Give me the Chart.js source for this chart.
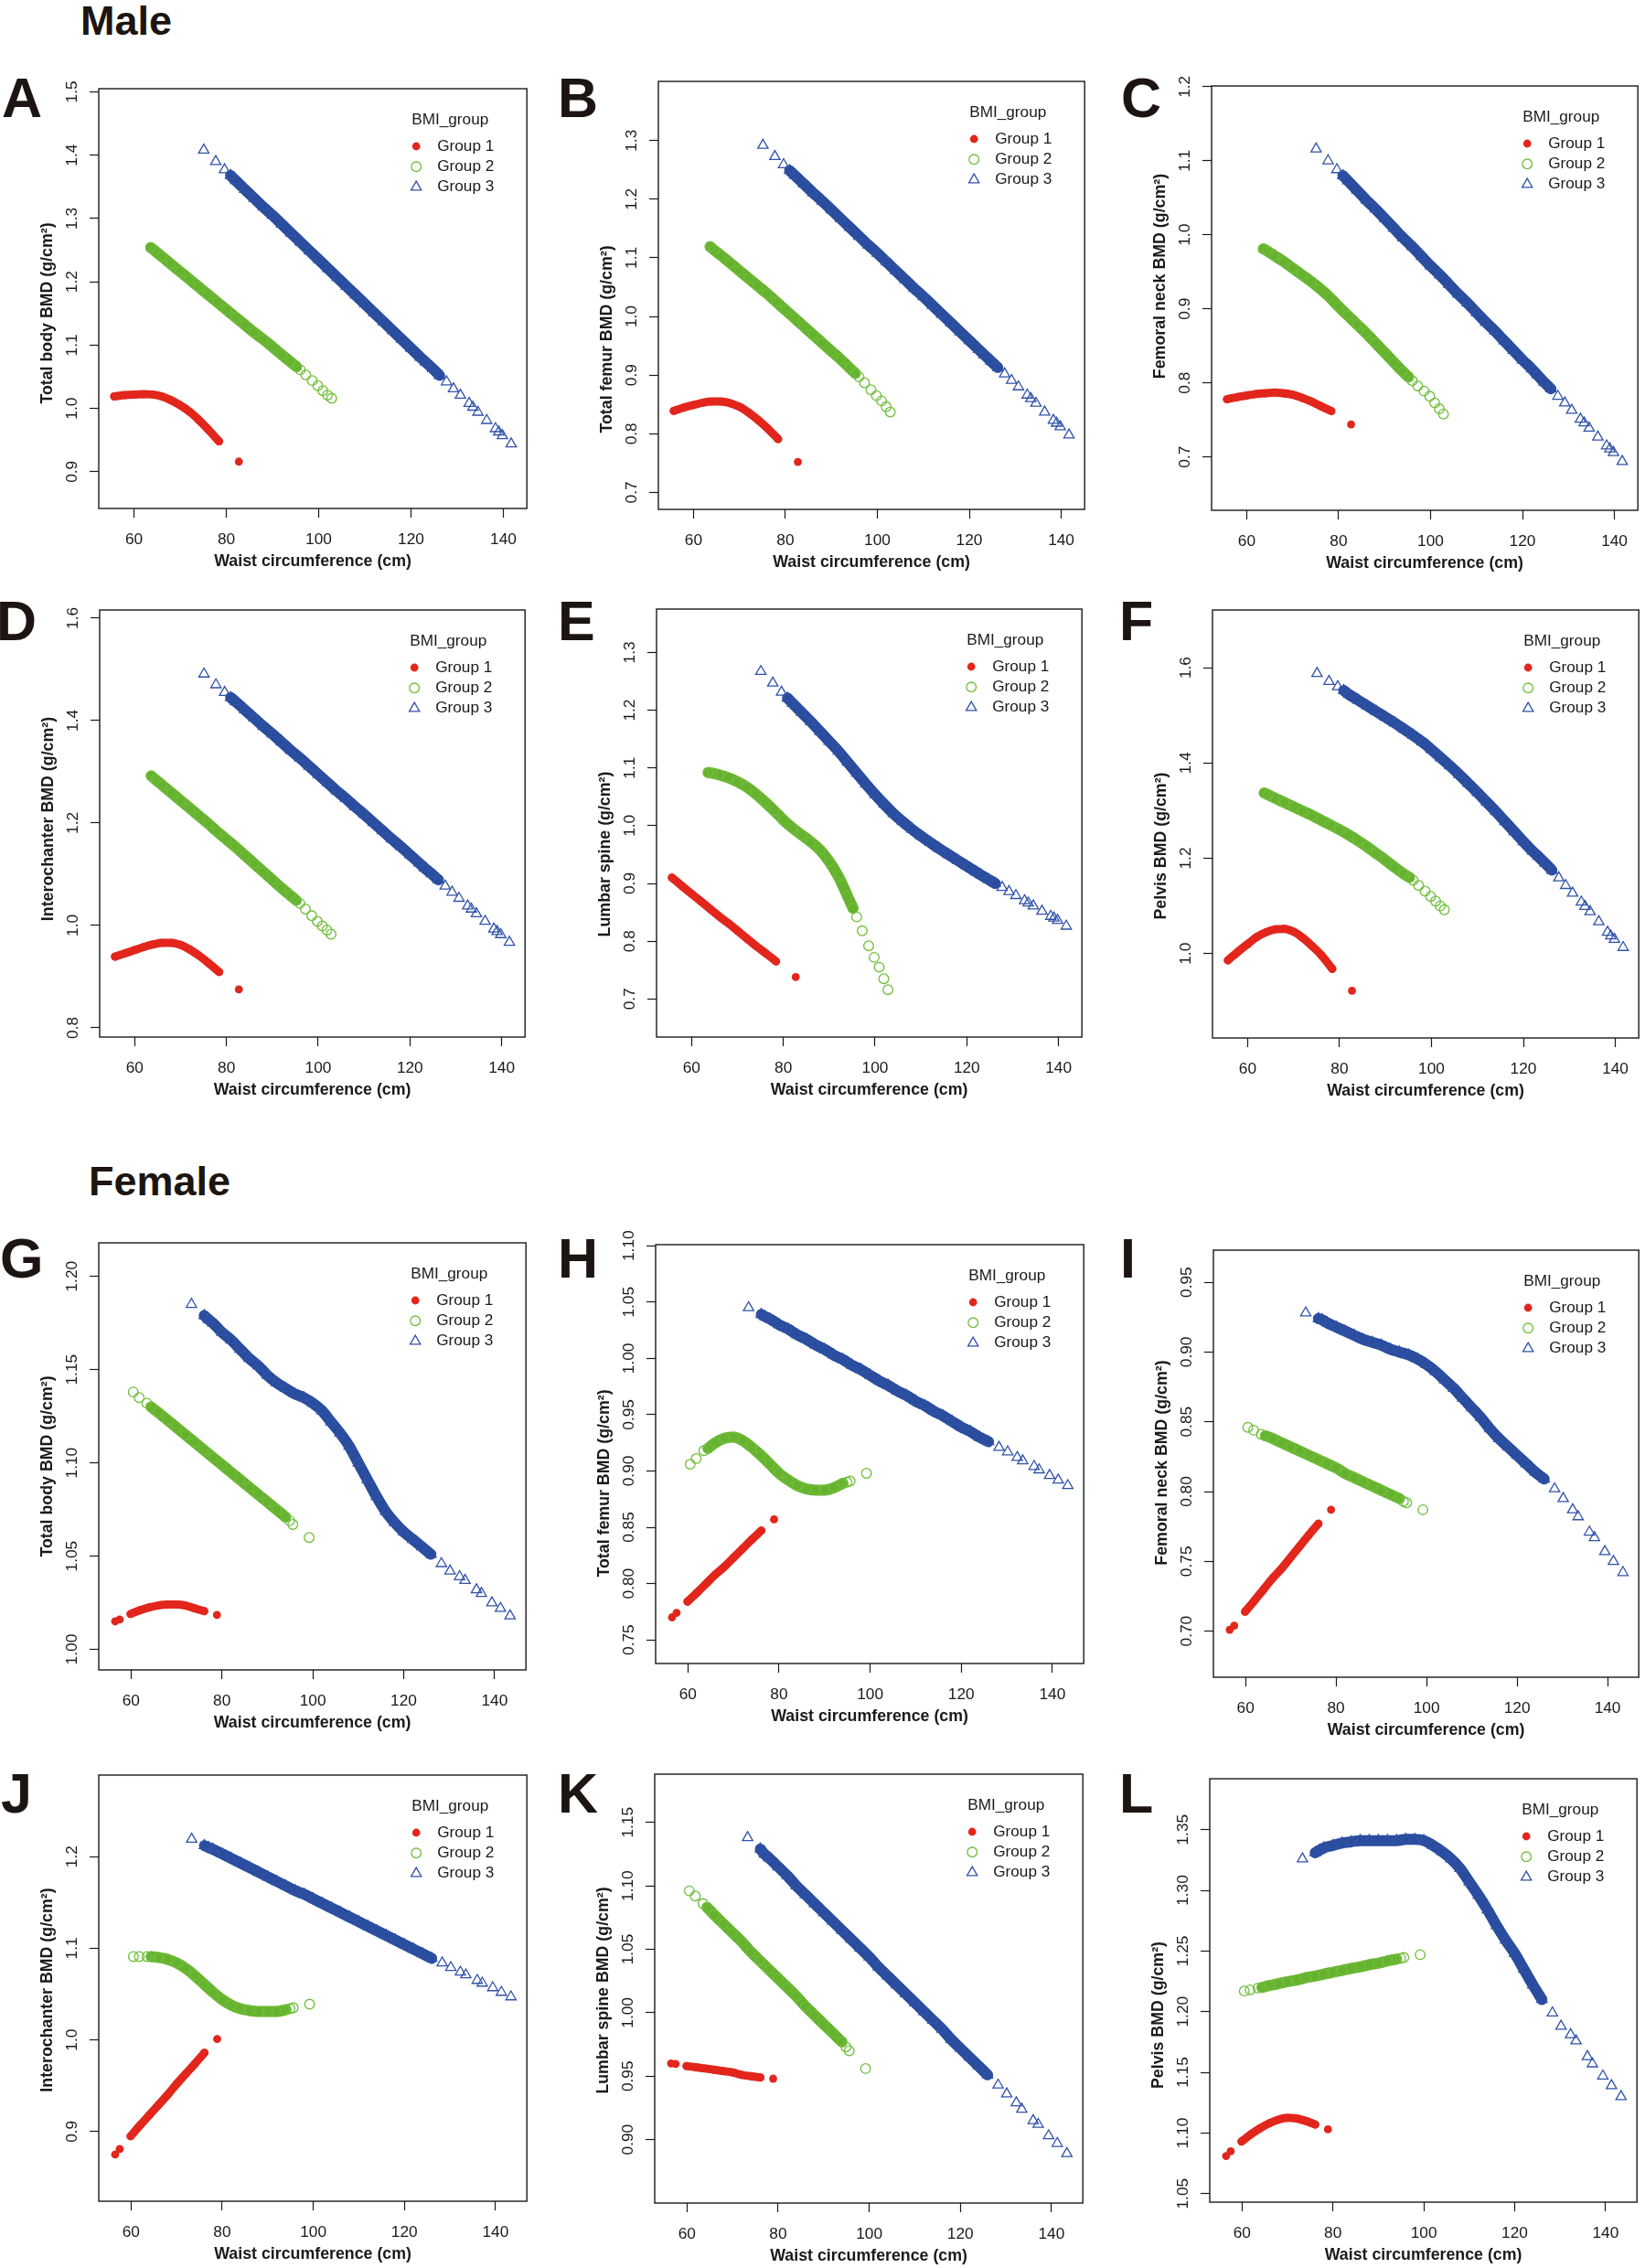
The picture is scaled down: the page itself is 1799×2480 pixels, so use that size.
<!DOCTYPE html>
<html>
<head>
<meta charset="utf-8">
<title>Waist circumference and BMD by BMI group</title>
<script src="https://cdn.jsdelivr.net/npm/chart.js@4.4.1/dist/chart.umd.min.js"></script>
<style>
  html, body { margin: 0; padding: 0; background: #fff; }
  body { position: relative; width: 1799px; height: 2480px; overflow: hidden; }
  .panel { position: absolute; }
  .panel canvas { display: block; }
  .tag { position: absolute; margin: 0; line-height: 1; white-space: nowrap;
         font-family: "Liberation Sans", Arial, sans-serif; font-weight: bold; color: #1c1512; }
  .sex { font-size: 45px; }
  .letter { font-size: 61px; }
</style>
</head>
<body>
<div class="tag sex" style="left:88px;top:0px">Male</div>
<div class="tag sex" style="left:97px;top:1269px">Female</div>
<div class="tag letter" style="left:2px;top:77px">A</div>
<div class="tag letter" style="left:610px;top:77px">B</div>
<div class="tag letter" style="left:1226px;top:77px">C</div>
<div class="tag letter" style="left:-4px;top:649px">D</div>
<div class="tag letter" style="left:610px;top:649px">E</div>
<div class="tag letter" style="left:1224px;top:649px">F</div>
<div class="tag letter" style="left:0px;top:1346px">G</div>
<div class="tag letter" style="left:610px;top:1346px">H</div>
<div class="tag letter" style="left:1225px;top:1346px">I</div>
<div class="tag letter" style="left:1px;top:1931px">J</div>
<div class="tag letter" style="left:610px;top:1931px">K</div>
<div class="tag letter" style="left:1224px;top:1931px">L</div>
<script>
(() => {
    'use strict';

    /**
     * Data
     */

    // Waist circumference (cm), shared by every panel of one sex
    const maleX1 = [55.7, 58, 60, 62, 64, 66, 68, 70, 72, 74, 76, 78.4, 82.7];
    const maleX2 = [63.6, 64.5, 66, 68, 70, 72, 74, 76, 78, 80, 82, 84, 86, 88, 90, 92, 94,
        95.2, 96.0, 97.2, 98.6, 99.8, 100.9, 101.9, 102.8];
    const maleX3 = [75.1, 77.7, 79.6, 80.9, 82, 84, 86, 88, 90, 92, 94, 96, 98, 100, 102, 104,
        106, 108, 110, 112, 114, 116, 118, 120, 122, 123.2, 124.7, 126.2, 127.7, 129.2, 130.7,
        132.6, 133.4, 134.5, 136.4, 138.3, 139.0, 139.8, 141.7];

    const femaleX1 = [56.5, 57.5, 59.9, 62, 64, 66, 68, 70, 72, 74, 76.1, 78.9];
    const femaleX2 = [60.5, 61.8, 63.5, 64.4, 66, 68, 70, 72, 74, 76, 78, 80, 82, 84, 86, 88,
        90, 92, 94, 94.9, 95.6, 99.2];
    const femaleX3 = [73.3, 76.1, 77, 78, 80, 82, 84, 86, 88, 90, 92, 94, 96, 98, 100, 102,
        104, 106, 108, 110, 112, 114, 116, 118, 120, 122, 124, 126, 128.3, 130.2, 132.3, 133.5,
        136.0, 137.1, 139.4, 141.3, 143.4];

    const xTicks = [60, 80, 100, 120, 140];

    // A - Male total body BMD
    const aY1 = [1.019, 1.021, 1.022, 1.0225, 1.022, 1.019, 1.013, 1.005, 0.995, 0.982, 0.967, 0.948, 0.916];
    const aY2 = [1.254, 1.249, 1.240, 1.228, 1.216, 1.204, 1.192, 1.180, 1.168, 1.156, 1.144, 1.132,
        1.120, 1.109, 1.097, 1.085, 1.073, 1.066, 1.061, 1.053, 1.044, 1.036, 1.028, 1.021, 1.016];
    const aY3 = [1.408, 1.390, 1.377, 1.368, 1.360, 1.346, 1.332, 1.318, 1.305, 1.291, 1.277, 1.263,
        1.249, 1.235, 1.221, 1.207, 1.193, 1.179, 1.165, 1.151, 1.137, 1.123, 1.109, 1.095, 1.081,
        1.073, 1.063, 1.052, 1.042, 1.031, 1.021, 1.008, 1.002, 0.994, 0.981, 0.968, 0.963, 0.957, 0.944];
    const aTicks = ['0.9', '1.0', '1.1', '1.2', '1.3', '1.4', '1.5'];

    // B - Male total femur BMD
    const bY1 = [0.839, 0.845, 0.849, 0.853, 0.855, 0.855, 0.852, 0.846, 0.836, 0.824, 0.810, 0.791, 0.752];
    const bY2 = [1.119, 1.113, 1.104, 1.091, 1.078, 1.065, 1.052, 1.039, 1.025, 1.011, 0.997, 0.983,
        0.969, 0.955, 0.941, 0.927, 0.912, 0.903, 0.897, 0.887, 0.875, 0.865, 0.856, 0.846, 0.837];
    const bY3 = [1.292, 1.273, 1.259, 1.249, 1.241, 1.226, 1.211, 1.197, 1.182, 1.167, 1.152, 1.137,
        1.122, 1.108, 1.093, 1.078, 1.063, 1.048, 1.034, 1.019, 1.004, 0.989, 0.974, 0.959, 0.944,
        0.935, 0.924, 0.913, 0.902, 0.891, 0.880, 0.866, 0.860, 0.852, 0.837, 0.823, 0.818, 0.812, 0.798];
    const bTicks = ['0.7', '0.8', '0.9', '1.0', '1.1', '1.2', '1.3'];

    // C - Male femoral neck BMD
    const cY1 = [0.778, 0.781, 0.783, 0.785, 0.786, 0.787, 0.786, 0.784, 0.780, 0.775, 0.769, 0.762, 0.744];
    const cY2 = [0.981, 0.978, 0.972, 0.964, 0.955, 0.946, 0.937, 0.927, 0.916, 0.903, 0.891, 0.879,
        0.867, 0.854, 0.841, 0.828, 0.815, 0.808, 0.803, 0.796, 0.789, 0.782, 0.773, 0.765, 0.758];
    const cY3 = [1.116, 1.100, 1.088, 1.080, 1.073, 1.060, 1.047, 1.035, 1.022, 1.009, 0.996, 0.984,
        0.971, 0.958, 0.946, 0.933, 0.920, 0.908, 0.895, 0.882, 0.870, 0.857, 0.844, 0.831, 0.819,
        0.811, 0.801, 0.792, 0.782, 0.773, 0.763, 0.751, 0.746, 0.739, 0.727, 0.715, 0.711, 0.706, 0.694];
    const cTicks = ['0.7', '0.8', '0.9', '1.0', '1.1', '1.2'];

    // D - Male intertrochanter BMD
    const dY1 = [0.939, 0.946, 0.952, 0.958, 0.963, 0.966, 0.966, 0.962, 0.953, 0.941, 0.927, 0.909, 0.875];
    const dY2 = [1.292, 1.285, 1.274, 1.259, 1.244, 1.229, 1.214, 1.199, 1.183, 1.168, 1.153, 1.137,
        1.121, 1.105, 1.089, 1.073, 1.058, 1.049, 1.043, 1.032, 1.019, 1.008, 0.999, 0.991, 0.983];
    const dY3 = [1.491, 1.470, 1.455, 1.445, 1.437, 1.421, 1.405, 1.389, 1.374, 1.358, 1.342, 1.327,
        1.311, 1.295, 1.279, 1.263, 1.248, 1.232, 1.217, 1.201, 1.185, 1.169, 1.154, 1.138, 1.122,
        1.112, 1.101, 1.089, 1.077, 1.065, 1.053, 1.038, 1.032, 1.023, 1.008, 0.993, 0.988, 0.982, 0.967];
    const dTicks = ['0.8', '1.0', '1.2', '1.4', '1.6'];

    // E - Male lumbar spine BMD
    const eY1 = [0.910, 0.895, 0.882, 0.869, 0.856, 0.843, 0.831, 0.818, 0.805, 0.792, 0.780, 0.765, 0.738];
    const eY2 = [1.092, 1.091, 1.088, 1.083, 1.076, 1.067, 1.055, 1.041, 1.026, 1.010, 0.996, 0.984,
        0.972, 0.958, 0.938, 0.912, 0.878, 0.857, 0.842, 0.818, 0.792, 0.772, 0.755, 0.735, 0.716];
    const eY3 = [1.267, 1.247, 1.231, 1.221, 1.212, 1.196, 1.180, 1.163, 1.146, 1.129, 1.110, 1.091,
        1.072, 1.054, 1.037, 1.021, 1.007, 0.994, 0.982, 0.971, 0.960, 0.950, 0.940, 0.930, 0.920,
        0.914, 0.907, 0.900, 0.893, 0.886, 0.879, 0.870, 0.866, 0.861, 0.852, 0.843, 0.840, 0.836, 0.826];
    const eTicks = ['0.7', '0.8', '0.9', '1.0', '1.1', '1.2', '1.3'];

    // F - Male pelvis BMD
    const fY1 = [0.986, 1.005, 1.020, 1.035, 1.045, 1.051, 1.052, 1.046, 1.033, 1.016, 0.997, 0.968, 0.922];
    const fY2 = [1.337, 1.333, 1.326, 1.317, 1.308, 1.299, 1.290, 1.280, 1.270, 1.260, 1.249, 1.237,
        1.224, 1.210, 1.196, 1.181, 1.167, 1.160, 1.154, 1.143, 1.131, 1.120, 1.110, 1.100, 1.092];
    const fY3 = [1.588, 1.571, 1.560, 1.552, 1.544, 1.532, 1.520, 1.508, 1.496, 1.484, 1.471, 1.458,
        1.444, 1.428, 1.411, 1.394, 1.376, 1.357, 1.338, 1.318, 1.298, 1.277, 1.256, 1.235, 1.215,
        1.204, 1.190, 1.175, 1.159, 1.143, 1.127, 1.108, 1.099, 1.088, 1.067, 1.045, 1.037, 1.030, 1.013];
    const fTicks = ['1.0', '1.2', '1.4', '1.6'];

    // G - Female total body BMD
    const gY1 = [1.015, 1.016, 1.019, 1.021, 1.0225, 1.0235, 1.024, 1.024, 1.0235, 1.022, 1.0205, 1.0185];
    const gY2 = [1.138, 1.135, 1.132, 1.130, 1.127, 1.123, 1.119, 1.115, 1.111, 1.107, 1.103, 1.099,
        1.095, 1.091, 1.087, 1.083, 1.079, 1.075, 1.071, 1.069, 1.067, 1.060];
    const gY3 = [1.185, 1.179, 1.177, 1.175, 1.170, 1.166, 1.161, 1.156, 1.152, 1.147, 1.143, 1.140,
        1.137, 1.135, 1.132, 1.128, 1.122, 1.116, 1.109, 1.100, 1.091, 1.082, 1.074, 1.068, 1.063,
        1.059, 1.055, 1.051, 1.046, 1.042, 1.039, 1.037, 1.032, 1.030, 1.025, 1.022, 1.018];
    const gTicks = ['1.00', '1.05', '1.10', '1.15', '1.20'];

    // H - Female total femur BMD
    const hY1 = [0.770, 0.774, 0.784, 0.792, 0.800, 0.808, 0.815, 0.823, 0.831, 0.839, 0.847, 0.857];
    const hY2 = [0.906, 0.911, 0.918, 0.920, 0.925, 0.929, 0.930, 0.927, 0.921, 0.914, 0.906, 0.898,
        0.892, 0.887, 0.884, 0.883, 0.883, 0.885, 0.889, 0.890, 0.891, 0.898];
    const hY3 = [1.045, 1.039, 1.037, 1.035, 1.030, 1.026, 1.021, 1.017, 1.012, 1.008, 1.003, 0.999,
        0.994, 0.990, 0.985, 0.980, 0.976, 0.971, 0.967, 0.962, 0.958, 0.953, 0.949, 0.944, 0.939,
        0.935, 0.930, 0.926, 0.921, 0.917, 0.912, 0.909, 0.904, 0.901, 0.896, 0.892, 0.887];
    const hTicks = ['0.75', '0.80', '0.85', '0.90', '0.95', '1.00', '1.05', '1.10'];

    // I - Female femoral neck BMD
    const iY1 = [0.701, 0.704, 0.714, 0.722, 0.730, 0.738, 0.745, 0.753, 0.761, 0.769, 0.777, 0.787];
    const iY2 = [0.846, 0.844, 0.841, 0.840, 0.838, 0.835, 0.832, 0.829, 0.826, 0.823, 0.820, 0.817,
        0.813, 0.810, 0.807, 0.804, 0.801, 0.798, 0.795, 0.793, 0.792, 0.787];
    const iY3 = [0.928, 0.924, 0.923, 0.921, 0.918, 0.915, 0.912, 0.909, 0.907, 0.905, 0.902, 0.900,
        0.898, 0.895, 0.891, 0.886, 0.880, 0.874, 0.867, 0.860, 0.853, 0.845, 0.838, 0.832, 0.826,
        0.820, 0.814, 0.809, 0.802, 0.795, 0.787, 0.782, 0.771, 0.767, 0.757, 0.750, 0.742];
    const iTicks = ['0.70', '0.75', '0.80', '0.85', '0.90', '0.95'];

    // J - Female intertrochanter BMD
    const jY1 = [0.875, 0.881, 0.895, 0.907, 0.918, 0.929, 0.940, 0.952, 0.963, 0.974, 0.986, 1.001];
    const jY2 = [1.091, 1.091, 1.091, 1.091, 1.090, 1.088, 1.084, 1.078, 1.070, 1.061, 1.052, 1.044,
        1.038, 1.034, 1.032, 1.031, 1.031, 1.031, 1.033, 1.034, 1.035, 1.039];
    const jY3 = [1.219, 1.212, 1.210, 1.208, 1.203, 1.198, 1.193, 1.188, 1.183, 1.178, 1.173, 1.168,
        1.163, 1.159, 1.154, 1.149, 1.144, 1.139, 1.134, 1.129, 1.124, 1.119, 1.114, 1.109, 1.104,
        1.099, 1.094, 1.089, 1.084, 1.079, 1.074, 1.071, 1.065, 1.062, 1.057, 1.052, 1.047];
    const jTicks = ['0.9', '1.0', '1.1', '1.2'];

    // K - Female lumbar spine BMD
    const kY1 = [0.960, 0.9597, 0.958, 0.957, 0.956, 0.955, 0.954, 0.953, 0.951, 0.950, 0.949, 0.948];
    const kY2 = [1.096, 1.092, 1.086, 1.083, 1.077, 1.070, 1.063, 1.056, 1.048, 1.041, 1.034, 1.027,
        1.020, 1.013, 1.005, 0.998, 0.991, 0.984, 0.977, 0.973, 0.970, 0.956];
    const kY3 = [1.138, 1.129, 1.125, 1.122, 1.115, 1.108, 1.100, 1.093, 1.086, 1.079, 1.072, 1.065,
        1.058, 1.051, 1.044, 1.036, 1.029, 1.022, 1.015, 1.008, 1.001, 0.994, 0.987, 0.979, 0.972,
        0.965, 0.958, 0.951, 0.943, 0.936, 0.929, 0.924, 0.915, 0.912, 0.903, 0.897, 0.889];
    const kTicks = ['0.90', '0.95', '1.00', '1.05', '1.10', '1.15'];

    // L - Female pelvis BMD
    const lY1 = [1.081, 1.085, 1.093, 1.099, 1.104, 1.108, 1.111, 1.1125, 1.112, 1.110, 1.107, 1.103];
    const lY2 = [1.217, 1.218, 1.2195, 1.220, 1.2215, 1.223, 1.2247, 1.226, 1.228, 1.2293, 1.231, 1.2325,
        1.234, 1.2356, 1.237, 1.2387, 1.240, 1.2418, 1.2433, 1.244, 1.2446, 1.247];
    const lY3 = [1.326, 1.331, 1.333, 1.335, 1.337, 1.339, 1.340, 1.341, 1.341, 1.341, 1.341, 1.341,
        1.342, 1.342, 1.341, 1.337, 1.332, 1.326, 1.318, 1.307, 1.296, 1.284, 1.271, 1.259, 1.248,
        1.235, 1.222, 1.210, 1.199, 1.188, 1.181, 1.176, 1.163, 1.157, 1.147, 1.139, 1.130];
    const lTicks = ['1.05', '1.10', '1.15', '1.20', '1.25', '1.30', '1.35'];

    /**
     * Styling and layout
     */

    const INK = '#1a1a1a';

    const GROUPS = [
        { label: 'Group 1', style: 'circle', radius: 4.4, bw: 0, color: '#e2261c', fill: '#e2261c', band: '#e2261c', bandW: 9 },
        { label: 'Group 2', style: 'circle', radius: 5.3, bw: 1.3, color: '#6fbe3a', fill: 'rgba(0,0,0,0)', band: '#66b22f', bandW: 12 },
        { label: 'Group 3', style: 'triangle', radius: 6.5, bw: 1.3, color: '#3052a8', fill: 'rgba(0,0,0,0)', band: '#294c9c', bandW: 12 }
    ];

    // stretch of each group where the markers overlap into a solid band
    const MALE_BANDS = [[55.7, 78.4], [63.6, 95.2], [80.9, 126.2]];
    const FEMALE_BANDS = [[59.9, 76.1], [64.4, 94], [76.1, 126]];

    const MALE_XRANGE = [52.35, 145.1];
    const FEMALE_XRANGE = [52.9, 146.9];

    const probe = document.createElement('canvas').getContext('2d');
    const measure = (font, s) => {
        probe.font = font;
        return probe.measureText(s).width;
    };

    const narrow = measure('20px "Liberation Sans Narrow", monospace', 'Waist circumference')
        !== measure('20px monospace', 'Waist circumference');
    const FAMILY = narrow
        ? '"Liberation Sans Narrow", "Liberation Sans", Arial, sans-serif'
        : '"Liberation Sans", Arial, sans-serif';
    const SZ = narrow ? { tick: 19, title: 20.5, legend: 19.5 } : { tick: 17.3, title: 17.8, legend: 17.2 };

    const TICK_LEN = 10;
    const AXIS_W = 72;
    const PAD_T = 22;
    const PAD_R = 3;
    const TITLE_LH = SZ.title * 1.2;
    const AXIS_H = Math.ceil(58 + TITLE_LH / 2 + 1);

    const PANELS = [
        { sex: 'm', ys: [aY1, aY2, aY3], ticks: aTicks, range: [0.842, 1.505], title: 'Total body BMD (g/cm²)', shift: 16, box: [108, 97, 581, 556] },
        { sex: 'm', ys: [bY1, bY2, bY3], ticks: bTicks, range: [0.671, 1.401], title: 'Total femur BMD (g/cm²)', shift: 48, box: [720, 89, 1191, 557] },
        { sex: 'm', ys: [cY1, cY2, cY3], ticks: cTicks, range: [0.628, 1.201], title: 'Femoral neck BMD (g/cm²)', shift: -24, box: [1325, 94, 1796, 558] },
        { sex: 'm', ys: [dY1, dY2, dY3], ticks: dTicks, range: [0.782, 1.616], title: 'Interochanter BMD (g/cm²)', shift: -5, box: [109, 667, 579, 1134] },
        { sex: 'm', ys: [eY1, eY2, eY3], ticks: eTicks, range: [0.634, 1.375], title: 'Lumbar spine (g/cm²)', shift: 34, box: [718, 666, 1188, 1134] },
        { sex: 'm', ys: [fY1, fY2, fY3], ticks: fTicks, range: [0.823, 1.721], title: 'Pelvis BMD (g/cm²)', shift: 24, box: [1326, 667, 1797, 1135] },
        { sex: 'f', ys: [gY1, gY2, gY3], ticks: gTicks, range: [0.989, 1.218], title: 'Total body BMD (g/cm²)', shift: 11, box: [108, 1359, 580, 1826] },
        { sex: 'f', ys: [hY1, hY2, hY3], ticks: hTicks, range: [0.729, 1.101], title: 'Total femur BMD (g/cm²)', shift: 32, box: [717, 1361, 1190, 1819] },
        { sex: 'f', ys: [iY1, iY2, iY3], ticks: iTicks, range: [0.667, 0.973], title: 'Femoral neck BMD (g/cm²)', shift: -1, box: [1327, 1367, 1797, 1834] },
        { sex: 'f', ys: [jY1, jY2, jY3], ticks: jTicks, range: [0.824, 1.289], title: 'Interochanter BMD (g/cm²)', shift: 2, box: [108, 1941, 581, 2407] },
        { sex: 'f', ys: [kY1, kY2, kY3], ticks: kTicks, range: [0.850, 1.188], title: 'Lumbar spine BMD (g/cm²)', shift: 2, box: [716, 1940, 1189, 2409] },
        { sex: 'f', ys: [lY1, lY2, lY3], ticks: lTicks, range: [1.043, 1.392], title: 'Pelvis BMD (g/cm²)', shift: 27, box: [1323, 1945, 1795, 2408] }
    ];

    Chart.defaults.font.family = FAMILY;
    Chart.defaults.color = INK;

    // frame round the plot region, y title and the legend inside the plot (R style)
    const frameLegend = {
        id: 'frameLegend',
        afterDraw(chart, _args, opts) {
            const { ctx, chartArea: a } = chart;

            ctx.save();
            ctx.strokeStyle = INK;
            ctx.lineWidth = 1.4;
            ctx.strokeRect(a.left, a.top, a.right - a.left, a.bottom - a.top);
            ctx.restore();

            ctx.save();
            ctx.translate(a.left - 56, (a.top + a.bottom) / 2 + opts.shift);
            ctx.rotate(-Math.PI / 2);
            ctx.font = `bold ${SZ.title}px ${FAMILY}`;
            ctx.fillStyle = INK;
            ctx.textAlign = 'center';
            ctx.textBaseline = 'middle';
            ctx.fillText(opts.yTitle, 0, 0);
            ctx.restore();

            const x0 = a.right - 126;
            const y0 = a.top + 34;
            ctx.save();
            ctx.font = `${SZ.legend}px ${FAMILY}`;
            ctx.textAlign = 'left';
            ctx.textBaseline = 'middle';
            ctx.fillStyle = INK;
            ctx.fillText('BMI_group', x0, y0);
            GROUPS.forEach((g, i) => {
                const y = y0 + 29 + i * 22.3;
                ctx.fillStyle = g.fill;
                ctx.strokeStyle = g.color;
                ctx.lineWidth = g.bw;
                Chart.helpers.drawPoint(ctx, { pointStyle: g.style, radius: g.radius, rotation: 0, borderWidth: g.bw }, x0 + 5, y);
                ctx.fillStyle = INK;
                ctx.fillText(g.label, x0 + 28, y);
            });
            ctx.restore();
        }
    };

    const buildPanel = (p) => {
        const [L, T, R, B] = p.box;
        const xs = p.sex === 'm' ? [maleX1, maleX2, maleX3] : [femaleX1, femaleX2, femaleX3];
        const bands = p.sex === 'm' ? MALE_BANDS : FEMALE_BANDS;
        const xRange = p.sex === 'm' ? MALE_XRANGE : FEMALE_XRANGE;
        const width = AXIS_W + (R - L) + PAD_R;
        const height = PAD_T + (B - T) + AXIS_H;

        const wrap = document.createElement('div');
        wrap.className = 'panel';
        wrap.style.left = (L - AXIS_W) + 'px';
        wrap.style.top = (T - PAD_T) + 'px';
        const cvs = document.createElement('canvas');
        cvs.width = width;
        cvs.height = height;
        cvs.style.width = width + 'px';
        cvs.style.height = height + 'px';
        wrap.appendChild(cvs);
        document.body.appendChild(wrap);

        const datasets = [];
        GROUPS.forEach((g, i) => {
            const pts = xs[i].map((x, k) => ({ x, y: p.ys[i][k] }));
            const [lo, hi] = bands[i];
            datasets.push({
                label: g.label,
                data: pts,
                showLine: false,
                pointStyle: g.style,
                pointRadius: g.radius,
                pointBorderWidth: g.bw,
                pointBackgroundColor: g.fill,
                pointBorderColor: g.color,
                order: 0
            });
            datasets.push({
                label: g.label + ' (overlap)',
                data: pts.filter(pt => pt.x >= lo && pt.x <= hi),
                showLine: true,
                pointRadius: 0,
                borderColor: g.band,
                borderWidth: g.bandW,
                borderCapStyle: 'round',
                borderJoinStyle: 'round',
                cubicInterpolationMode: 'monotone',
                order: 1
            });
        });

        const tickFont = { family: FAMILY, size: SZ.tick };
        const widest = Math.max(...p.ticks.map(t => measure(`${SZ.tick}px ${FAMILY}`, t)));

        new Chart(cvs, {
            type: 'scatter',
            data: { datasets },
            plugins: [frameLegend],
            options: {
                responsive: false,
                animation: false,
                devicePixelRatio: 1,
                events: [],
                layout: { padding: { top: PAD_T, right: PAD_R, bottom: 0, left: 0 } },
                plugins: {
                    legend: { display: false },
                    tooltip: { enabled: false },
                    frameLegend: { yTitle: p.title, shift: p.shift }
                },
                scales: {
                    x: {
                        type: 'linear',
                        min: xRange[0],
                        max: xRange[1],
                        afterBuildTicks: s => { s.ticks = xTicks.map(v => ({ value: v })); },
                        afterFit: s => { s.height = AXIS_H; s.paddingLeft = 0; s.paddingRight = 0; },
                        border: { display: false },
                        grid: { drawOnChartArea: false, drawTicks: true, tickLength: TICK_LEN, tickWidth: 1.2, tickColor: INK },
                        ticks: {
                            font: tickFont, color: INK, autoSkip: false, maxRotation: 0,
                            padding: 34 - TICK_LEN - SZ.tick * 0.6,
                            callback: v => String(v)
                        },
                        title: {
                            display: true,
                            text: 'Waist circumference (cm)',
                            color: INK,
                            font: { family: FAMILY, size: SZ.title, weight: 'bold' },
                            padding: { top: 0, bottom: AXIS_H - 58 - TITLE_LH / 2 }
                        }
                    },
                    y: {
                        type: 'linear',
                        min: p.range[0],
                        max: p.range[1],
                        afterBuildTicks: s => { s.ticks = p.ticks.map(t => ({ value: parseFloat(t) })); },
                        afterFit: s => { s.width = AXIS_W; s.paddingTop = 0; s.paddingBottom = 0; },
                        border: { display: false },
                        grid: { drawOnChartArea: false, drawTicks: true, tickLength: TICK_LEN, tickWidth: 1.2, tickColor: INK },
                        ticks: {
                            font: tickFont, color: INK, autoSkip: false,
                            minRotation: 90, maxRotation: 90, crossAlign: 'center',
                            padding: 29 - TICK_LEN - widest / 2,
                            callback: (_v, i) => p.ticks[i]
                        },
                        title: { display: false }
                    }
                }
            }
        });
    };

    PANELS.forEach(buildPanel);
})();
</script>
</body>
</html>
